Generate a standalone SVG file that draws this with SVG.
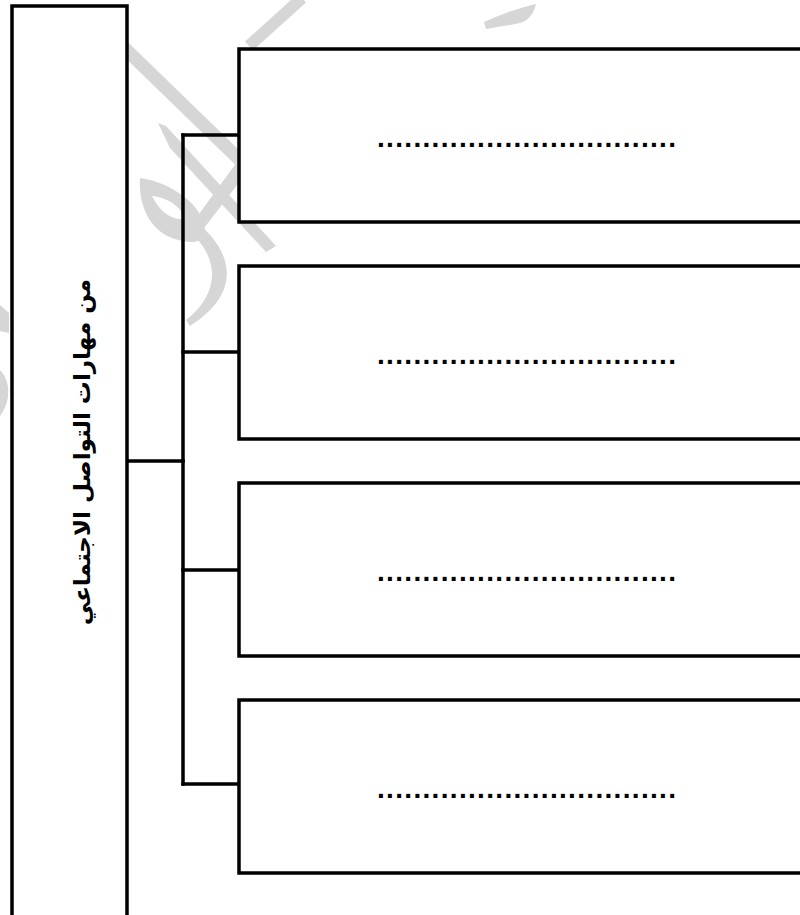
<svg xmlns="http://www.w3.org/2000/svg" width="800" height="915" viewBox="0 0 800 915">
<style>
.box{fill:#ffffff;stroke:#000000;stroke-width:3.5}
.ln{stroke:#000000;stroke-width:3.5;fill:none;stroke-linecap:square}
.dots{font-family:"Liberation Sans",Arial,sans-serif;font-weight:bold;font-size:28px;fill:#000000}
.title{font-family:"DejaVu Sans",sans-serif;font-weight:bold;font-size:23px;fill:#000000}
.wm{fill:#d6d6d6;stroke:none}
.wms{stroke:#d6d6d6;fill:none;stroke-linecap:butt}
</style>
<rect width="800" height="915" fill="#ffffff"/>
<g id="watermark">
<line class="wms" x1="108" y1="32" x2="244" y2="164" stroke-width="13"/>
<line class="wms" x1="302" y1="-2" x2="249" y2="46" stroke-width="12"/>
<path class="wm" d="M158,123 L166,126 L276,246 L266,252 L170,148 Z"/>
<path class="wm" d="M188,229 L240,158 L250,168 L198,236 Z"/>
<path class="wm" fill-rule="evenodd" d="M140,178 C170,182 205,205 205,232 C205,244 190,244 172,238 C150,230 138,205 140,178 Z M152,196 C160,212 172,220 182,219 C186,210 168,197 152,196 Z"/>
<path class="wm" d="M196,222 C232,250 244,292 190,326 L186,320 C222,292 218,256 190,232 Z"/>
<path class="wm" d="M484,22 C500,15 518,8 536,4 C534,12 530,20 520,23 C508,26 496,27 486,29 Z"/>
<path class="wm" d="M0,305 L9,313 L9,333 L0,331 Z"/>
<path class="wm" d="M0,370 C10,380 12,400 0,416 Z"/>
</g>
<g id="connectors">
<line class="ln" x1="127" y1="461" x2="183" y2="461"/>
<line class="ln" x1="183" y1="135" x2="183" y2="784"/>
<line class="ln" x1="183" y1="135" x2="239" y2="135"/>
<line class="ln" x1="183" y1="352" x2="239" y2="352"/>
<line class="ln" x1="183" y1="570" x2="239" y2="570"/>
<line class="ln" x1="183" y1="784" x2="239" y2="784"/>
</g>
<g id="main">
<path class="box" d="M12,925 V6 H127 V925"/>
<text class="title" text-anchor="middle" transform="translate(90,452) rotate(-90)">من مهارات التواصل الاجتماعي</text>
</g>
<g id="item1">
<rect class="box" x="239" y="49" width="600" height="173"/>
<text class="dots" x="377" y="147" textLength="299" lengthAdjust="spacing">.................................</text>
</g>
<g id="item2">
<rect class="box" x="239" y="266" width="600" height="173"/>
<text class="dots" x="377" y="364" textLength="299" lengthAdjust="spacing">.................................</text>
</g>
<g id="item3">
<rect class="box" x="239" y="483" width="600" height="173"/>
<text class="dots" x="377" y="581" textLength="299" lengthAdjust="spacing">.................................</text>
</g>
<g id="item4">
<rect class="box" x="239" y="700" width="600" height="173"/>
<text class="dots" x="377" y="798" textLength="299" lengthAdjust="spacing">.................................</text>
</g>
</svg>
